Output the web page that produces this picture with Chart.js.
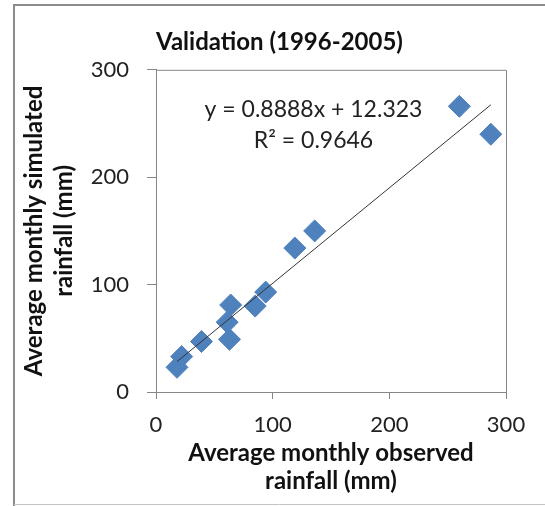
<!DOCTYPE html>
<html>
<head>
<meta charset="utf-8">
<script src="https://cdn.jsdelivr.net/npm/chart.js@4.4.0/dist/chart.umd.min.js"></script>
<style>
  html, body { margin: 0; padding: 0; background: #fff; overflow: hidden; }
  #box { position: relative; width: 545px; height: 506px; }
</style>
</head>
<body>
<div id="box"><canvas id="rainChart"></canvas></div>
<script>
// monthly averages, 1996-2005 (mm)
const observed  = [18, 22, 39, 61, 63, 64, 85, 94, 119, 136, 260, 287];
const simulated = [23, 33, 47, 65, 49, 81, 80, 93, 134, 150, 266, 240];
const axisTicks = [0, 100, 200, 300];

// excel linear trendline
const slope = 0.8888;
const intercept = 12.323;
const eqLines = ['y = 0.8888x + 12.323', 'R\u00b2 = 0.9646'];
const eqAnchorX = 135;          // in data units
const eqAnchorY = [263, 234];

const points = observed.map((x, i) => ({ x: x, y: simulated[i] }));
const xMin = Math.min(...observed);
const xMax = Math.max(...observed);
const trend = [xMin, xMax].map(x => ({ x: x, y: slope * x + intercept }));

const axisGrey = '#868686';
const textCol = '#222';

// outer chart border + plot box + equation label
const decorations = {
    id: 'decorations',
    beforeDraw(chart) {
        const ctx = chart.ctx;
        ctx.save();
        ctx.strokeStyle = '#8c8c8c';
        ctx.lineWidth = 2;
        ctx.beginPath();
        ctx.moveTo(14, 506);
        ctx.lineTo(14, 5);
        ctx.lineTo(chart.width, 5);
        ctx.stroke();
        ctx.strokeStyle = '#c4c4c4';
        ctx.lineWidth = 1;
        ctx.beginPath();
        ctx.moveTo(14, 504.5);
        ctx.lineTo(chart.width, 504.5);
        ctx.stroke();
        ctx.restore();
    },
    afterDraw(chart) {
        const { ctx, chartArea: a, scales } = chart;
        ctx.save();
        ctx.strokeStyle = axisGrey;
        ctx.lineWidth = 1;
        ctx.beginPath();
        ctx.moveTo(a.left, a.top + 0.5);
        ctx.lineTo(a.right + 0.5, a.top + 0.5);
        ctx.lineTo(a.right + 0.5, a.bottom);
        ctx.stroke();

        ctx.fillStyle = textCol;
        ctx.font = '23px Lato';
        ctx.textAlign = 'center';
        ctx.textBaseline = 'middle';
        const px = scales.x.getPixelForValue(eqAnchorX);
        eqLines.forEach((t, i) => {
            ctx.fillText(t, px, scales.y.getPixelForValue(eqAnchorY[i]));
        });
        ctx.restore();
    }
};

const ctx = document.getElementById('rainChart').getContext('2d');
const chart = new Chart(ctx, {
    data: {
        datasets: [{
            type: 'line',
            label: 'Linear trend',
            data: trend,
            borderColor: '#333',
            borderWidth: 1,
            pointRadius: 0,
            fill: false,
            order: 0
        }, {
            type: 'scatter',
            label: 'Monthly rainfall',
            data: points,
            pointStyle: 'rectRot',
            pointRadius: 11,
            pointBackgroundColor: '#4F81BD',
            pointBorderColor: '#4F81BD',
            pointBorderWidth: 1,
            order: 1
        }]
    },
    options: {
        responsive: true,
        maintainAspectRatio: false,
        animation: false,
        layout: { padding: { left: 14, right: 0, top: 0, bottom: 0 } },
        plugins: {
            legend: { display: false },
            tooltip: { enabled: false },
            title: {
                display: true,
                text: 'Validation (1996-2005)',
                color: '#111',
                font: { family: 'Lato', size: 24, weight: 'bold', lineHeight: 1.2 },
                padding: { top: 28, bottom: 13 }
            }
        },
        scales: {
            x: {
                type: 'linear',
                position: 'bottom',
                min: 0,
                max: 300,
                afterBuildTicks: s => { s.ticks = axisTicks.map(v => ({ value: v })); },
                afterFit: s => { s.height = 114; s.paddingRight = 39; },
                ticks: {
                    color: textCol,
                    padding: 13,
                    font: { family: 'Lato', size: 22 }
                },
                grid: { drawOnChartArea: false, tickLength: 7, color: axisGrey },
                border: { color: axisGrey },
                title: {
                    display: true,
                    text: ['Average monthly observed', 'rainfall (mm)'],
                    color: '#111',
                    font: { family: 'Lato', size: 24, weight: 'bold', lineHeight: 1.15 },
                    padding: { top: 0, bottom: 11 }
                }
            },
            y: {
                type: 'linear',
                min: 0,
                max: 300,
                afterBuildTicks: s => { s.ticks = axisTicks.map(v => ({ value: v })); },
                afterFit: s => { s.width = 142; },
                ticks: {
                    color: textCol,
                    padding: 18,
                    font: { family: 'Lato', size: 22 }
                },
                grid: { drawOnChartArea: false, tickLength: 9, color: axisGrey },
                border: { color: axisGrey },
                title: {
                    display: true,
                    text: ['Average monthly simulated', 'rainfall (mm)'],
                    color: '#111',
                    font: { family: 'Lato', size: 24, weight: 'bold', lineHeight: 1.25 },
                    padding: { top: 5, bottom: 0 }
                }
            }
        }
    },
    plugins: [decorations]
});
</script>
</body>
</html>
